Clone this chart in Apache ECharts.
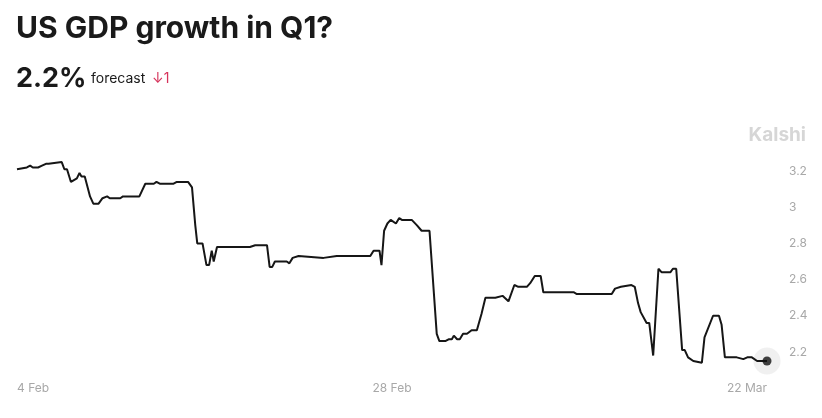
<!DOCTYPE html>
<html>
<head>
<meta charset="utf-8">
<script src="https://cdn.jsdelivr.net/npm/echarts@6/dist/echarts.min.js"></script>
<style>
html,body{margin:0;padding:0;background:#fff;}
#chart{width:822px;height:418px;}
</style>
</head>
<body>
<div id="chart"></div>
<script>
// Time origin of the series (hours are counted from here)
const startDate = [2024, 1, 4, 6, 0];   // 4 Feb 2024 06:00
const spanHours = 1140;                  // ends 22 Mar 2024 18:00

// Hours since start
const hours = [0,2,15,20,24,32,38,44,48,68,72,76,78,82,91,95,98,103,111,116,124,130,137,141,157,161,186,195,208,212,217,238,243,260,266,271,274,282,288,292,296,299,304,324,354,362,380,384,388,392,410,414,419,428,466,486,506,537,542,551,554,558,563,568,576,581,585,600,608,615,627,629,638,642,651,656,661,664,669,673,678,684,691,699,706,712,727,738,747,756,762,775,780,787,796,800,846,851,866,870,896,904,909,918,934,939,944,948,951,957,961,967,975,980,985,993,997,1002,1011,1015,1020,1028,1041,1045,1048,1058,1067,1071,1076,1089,1094,1104,1110,1117,1125,1140];

// Forecast GDP growth (%)
const values = [3.21,3.22,3.22,3.23,3.22,3.22,3.23,3.24,3.24,3.25,3.21,3.21,3.21,3.14,3.16,3.19,3.17,3.17,3.06,3.02,3.02,3.05,3.06,3.05,3.05,3.06,3.06,3.13,3.13,3.14,3.13,3.13,3.14,3.14,3.11,2.90,2.80,2.80,2.68,2.68,2.76,2.70,2.78,2.78,2.78,2.79,2.79,2.67,2.67,2.70,2.70,2.69,2.72,2.73,2.72,2.73,2.73,2.73,2.76,2.76,2.68,2.87,2.91,2.93,2.91,2.94,2.93,2.93,2.90,2.87,2.87,2.86,2.30,2.26,2.26,2.27,2.27,2.29,2.27,2.27,2.30,2.30,2.32,2.32,2.41,2.50,2.50,2.51,2.48,2.57,2.56,2.56,2.58,2.62,2.62,2.53,2.53,2.52,2.52,2.52,2.52,2.52,2.55,2.56,2.57,2.56,2.47,2.42,2.43,2.36,2.36,2.18,2.66,2.64,2.64,2.64,2.66,2.66,2.21,2.21,2.17,2.15,2.14,2.28,2.28,2.40,2.40,2.35,2.17,2.17,2.17,2.16,2.17,2.17,2.15,2.15];

// Axis tick labels (x ticks in hours since start: 4 Feb, 28 Feb, 22 Mar)
const xTickHours = [0, 570, 1140];
const yTickValues = [2.2, 2.4, 2.6, 2.8, 3, 3.2];
const monthNames = ['Jan','Feb','Mar','Apr','May','Jun','Jul','Aug','Sep','Oct','Nov','Dec'];

const titleText = 'US GDP growth in Q1?';
const currentValue = '2.2%';
const forecastLabel = 'forecast';
const changeText = '↓1';
const brand = 'Kalshi';

const t0 = new Date(...startDate).getTime();
const seriesData = hours.map((h, i) => [h, values[i]]);
const lastPoint = seriesData[seriesData.length - 1];

const FONT = 'Inter, "Noto Sans", sans-serif';
const chart = echarts.init(document.getElementById('chart'));
chart.setOption({
  animation: false,
  backgroundColor: '#ffffff',
  grid: { left: 17, right: 55, top: 153, bottom: 48, containLabel: false },
  xAxis: {
    type: 'value',
    min: 0,
    max: spanHours,
    axisLine: { show: false },
    axisTick: { show: false },
    splitLine: { show: false },
    axisLabel: {
      customValues: xTickHours,
      alignMinLabel: 'left',
      alignMaxLabel: 'right',
      margin: 12,
      color: '#a8a8a8',
      fontSize: 12,
      fontFamily: FONT,
      formatter: v => { const d = new Date(t0 + v * 3600000); return d.getDate() + ' ' + monthNames[d.getMonth()]; }
    }
  },
  yAxis: {
    type: 'value',
    position: 'right',
    min: 2.1,
    max: 3.3,
    axisLine: { show: false },
    axisTick: { show: false },
    splitLine: { show: false },
    axisLabel: {
      customValues: yTickValues,
      margin: 22,
      color: '#a8a8a8',
      fontSize: 12,
      fontFamily: FONT,
      formatter: v => String(parseFloat(Number(v).toFixed(2)))
    }
  },
  series: [
    {
      type: 'line',
      data: seriesData,
      showSymbol: false,
      lineStyle: { color: '#161616', width: 2 },
      z: 3
    },
    {
      type: 'scatter',
      data: [lastPoint],
      symbolSize: 27,
      itemStyle: { color: '#ececec' },
      z: 2,
      silent: true
    },
    {
      type: 'scatter',
      data: [lastPoint],
      symbolSize: 9,
      itemStyle: { color: '#111111' },
      z: 4,
      silent: true
    }
  ],
  graphic: [
    { type: 'text', left: 16, top: 14, style: { text: titleText, font: '700 30px ' + FONT, fill: '#1a1a1a' } },
    { type: 'text', left: 16, top: 65, style: { text: currentValue, font: '700 27px ' + FONT, fill: '#1a1a1a' } },
    { type: 'text', left: 91, top: 72, style: { text: forecastLabel, font: '400 14px ' + FONT, fill: '#1a1a1a' } },
    { type: 'text', left: 152, top: 72, style: { text: changeText, font: '400 14px ' + FONT, fill: '#d6325a' } },
    { type: 'text', right: 16, top: 126, style: { text: brand, font: '700 19px ' + FONT, fill: '#d6d6d6' } }
  ]
});
</script>
</body>
</html>
